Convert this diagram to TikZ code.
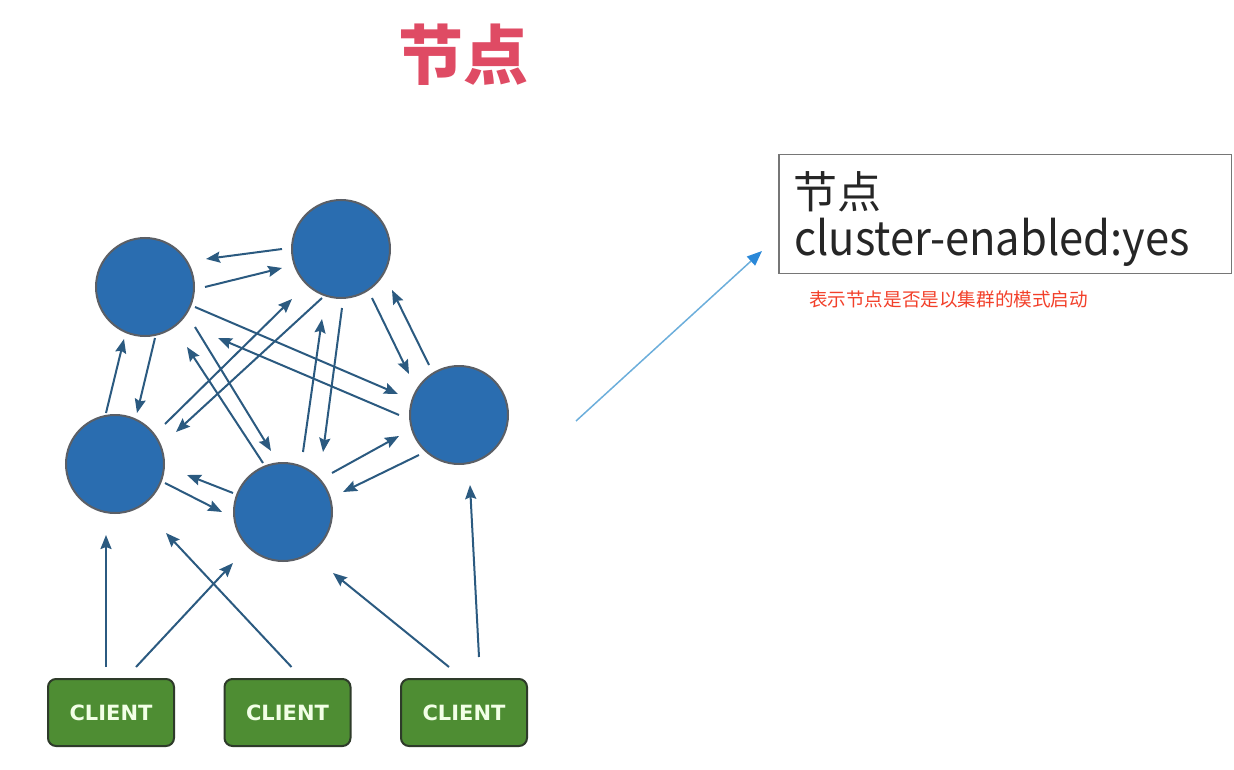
\documentclass[tikz,border=0pt]{standalone}
\usepackage{fontspec}
\setmainfont{Noto Sans CJK SC}
\newfontfamily\clientfont{DejaVu Sans}
\usetikzlibrary{arrows.meta,calc}
\definecolor{titlered}{HTML}{DF4B64}
\definecolor{nodeblue}{HTML}{2A6DB0}
\definecolor{nodeedge}{HTML}{5B5F66}
\definecolor{linkblue}{HTML}{2B5A80}
\definecolor{clientgreen}{HTML}{4E8D33}
\definecolor{clientedge}{HTML}{2E3B2A}
\definecolor{clienttext}{HTML}{F2FFE6}
\definecolor{boxedge}{HTML}{767676}
\definecolor{notered}{HTML}{F2402A}
\definecolor{pointerline}{HTML}{6CAEDB}
\definecolor{pointerhead}{HTML}{2A88D8}

\begin{document}
\begin{tikzpicture}[x=1pt,y=-1pt,
   redis/.style={circle,draw=nodeedge,fill=nodeblue,line width=2pt,minimum size=98pt,inner sep=0pt},
   client/.style={draw=clientedge,fill=clientgreen,line width=2pt,rounded corners=8pt,
      minimum width=126pt,minimum height=67pt,text=clienttext,
      font=\clientfont\bfseries\fontsize{21}{21}\selectfont},
   link/.style={draw=linkblue,line width=2pt,-{Stealth[length=14pt,width=11pt,inset=2pt]}},
   pointer/.style={draw=pointerline,line width=1.5pt,-{Triangle[length=15pt,width=12pt,color=pointerhead]}}]
\useasboundingbox (0,0) rectangle (1234,770);
\node[font=\bfseries\fontsize{65}{65}\selectfont,text=titlered] (title) at (463.5,55) {节点};
% cluster nodes
\node[redis] (A) at (145,287) {};
\node[redis] (B) at (341,249) {};
\node[redis] (C) at (115,464) {};
\node[redis] (D) at (283,512) {};
\node[redis] (E) at (459,415) {};
\foreach \s/\sx/\sy/\t/\tx/\ty in {B/-59/0/A/61/-28, A/60/0/B/-59/19,
   C/-9/-51/A/-21/52, A/10/51/C/22/-51, A/50/40/D/-12/-61, D/-20/-49/A/42/60,
   A/50/20/E/-61/-21, E/-60/0/A/73/51, C/50/-40/B/-49/50, B/-19/49/C/61/-32,
   D/20/-60/B/-19/70, B/1/59/D/40/-60, B/31/49/E/-50/-41, E/-30/-50/B/51/41,
   C/50/19/D/-61/0, D/-50/-19/C/72/11, D/49/-39/E/-60/21, E/-40/40/D/60/-20}
   \draw[link] ($(\s)+(\sx,\sy)$) -- ($(\t)+(\tx,\ty)$);
% clients
\node[client] (k1) at (111,712.5) {CLIENT};
\node[client] (k2) at (287.5,712.5) {CLIENT};
\node[client] (k3) at (464,712.5) {CLIENT};
\draw[link] ($(k1.north)+(-5,-11)$) -- ($(C)+(-9,71)$);
\draw[link] ($(k1.north)+(25,-11)$) -- ($(D)+(-50,51)$);
\draw[link] ($(k2.north)+(4,-11)$) -- ($(C)+(51,69)$);
\draw[link] ($(k3.north)+(-15,-11)$) -- ($(D)+(50,61)$);
\draw[link] ($(k3.north)+(15,-21)$) -- ($(E)+(11,70)$);
% config box
\node[draw=boxedge,line width=1.5pt,minimum width=452.5pt,minimum height=118.5pt] (info) at (1005,214) {};
\node[anchor=west,inner sep=0pt,font=\fontsize{44}{44}\selectfont,text=black!85] (cfgname) at (793,192) {节点};
\node[anchor=base west,inner sep=0pt,font=\fontsize{43.5}{43.5}\selectfont,text=black!85] (cfgline) at (794,255) {\scalebox{1}[1.08]{cluster-enabled:yes}};
\node[font=\fontsize{18.6}{18.6}\selectfont,text=notered] (note) at (948.5,299) {表示节点是否是以集群的模式启动};
\coordinate (from) at (576,421);
\draw[pointer] (from) -- ($(info.west)+(-16,37)$);
\end{tikzpicture}
\end{document}
